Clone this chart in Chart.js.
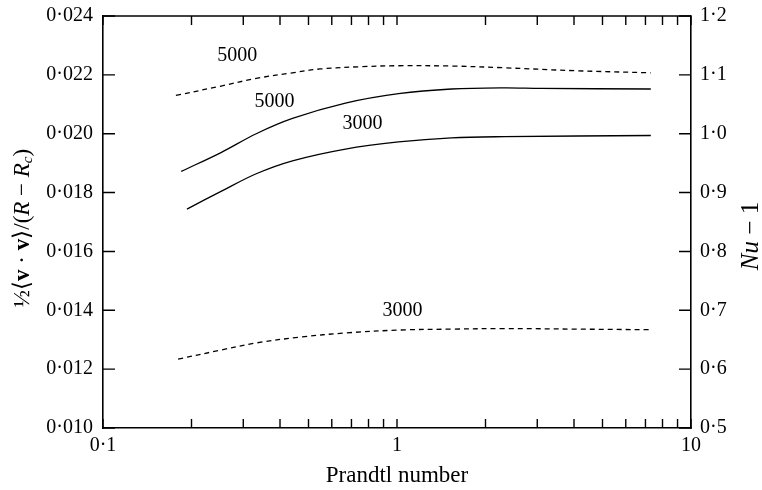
<!DOCTYPE html>
<html>
<head>
<meta charset="utf-8">
<script src="https://cdn.jsdelivr.net/npm/chart.js@4.4.1/dist/chart.umd.min.js"></script>
<style>
  html, body { margin: 0; padding: 0; background: #fff; }
  #c { display: block; }
</style>
</head>
<body>
<canvas id="c" width="762" height="490"></canvas>
<script>
// ---- data ----
// Kinetic energy (left axis), dashed curves
const keX5000 = [0.177, 0.252, 0.332, 0.441, 0.548, 0.763, 1.012, 1.533, 2.32, 4.06, 7.3];
const keY5000 = [0.02130, 0.02162, 0.02188, 0.02207, 0.02220, 0.02228, 0.02231, 0.02230, 0.02224, 0.02214, 0.02207];
const keX3000 = [0.180, 0.252, 0.332, 0.469, 0.668, 1.028, 1.533, 2.32, 4.06, 7.3];
const keY3000 = [0.01234, 0.01265, 0.01289, 0.01309, 0.01323, 0.01333, 0.01336, 0.01338, 0.01336, 0.01334];
// Nu - 1 (right axis), solid curves
const nuX5000 = [0.1845, 0.252, 0.332, 0.441, 0.668, 1.012, 1.533, 2.32, 3.08, 7.3];
const nuY5000 = [0.936, 0.968, 1.000, 1.026, 1.052, 1.068, 1.076, 1.078, 1.077, 1.076];
const nuX3000 = [0.193, 0.252, 0.332, 0.441, 0.668, 1.012, 1.533, 2.32, 7.3];
const nuY3000 = [0.872, 0.902, 0.932, 0.954, 0.974, 0.986, 0.993, 0.995, 0.997];

// curve annotations (left-axis units)
const curveLabels = ['5000', '5000', '3000', '3000'];
const curveLabelX = [0.286, 0.383, 0.763, 1.044];
const curveLabelY = [0.02265, 0.02108, 0.02033, 0.01400];

// ticks
const xTicks = [0.1, 0.2, 0.3, 0.4, 0.5, 0.6, 0.7, 0.8, 0.9, 1, 2, 3, 4, 5, 6, 7, 8, 9, 10];
const xLabelValues = [0.1, 1, 10];
const xLabelTexts = ['0·1', '1', '10'];
const leftTicks = [0.010, 0.012, 0.014, 0.016, 0.018, 0.020, 0.022, 0.024];
const rightTicks = [0.5, 0.6, 0.7, 0.8, 0.9, 1.0, 1.1, 1.2];

const SERIF = '"Liberation Serif", "Times New Roman", serif';
const zip = (xs, ys) => xs.map((x, i) => ({ x, y: ys[i] }));

const framePlugin = {
  id: 'frame',
  afterDraw(chart) {
    const { ctx, chartArea: ca, scales } = chart;
    ctx.save();
    ctx.strokeStyle = '#000';
    ctx.lineWidth = 1.6;
    ctx.beginPath();
    ctx.moveTo(ca.left, ca.top);
    ctx.lineTo(ca.right, ca.top);
    ctx.stroke();
    ctx.lineWidth = 1.4;
    ctx.beginPath();
    xTicks.forEach(v => {
      const px = scales.x.getPixelForValue(v);
      ctx.moveTo(px, ca.bottom); ctx.lineTo(px, ca.bottom - 9);
      ctx.moveTo(px, ca.top); ctx.lineTo(px, ca.top + 9);
    });
    leftTicks.forEach(v => {
      const py = scales.y.getPixelForValue(v);
      ctx.moveTo(ca.left, py); ctx.lineTo(ca.left + 12, py);
    });
    rightTicks.forEach(v => {
      const py = scales.y2.getPixelForValue(v);
      ctx.moveTo(ca.right, py); ctx.lineTo(ca.right - 12, py);
    });
    ctx.stroke();

    ctx.fillStyle = '#000';
    ctx.font = '20px ' + SERIF;
    ctx.textAlign = 'center';
    ctx.textBaseline = 'middle';
    curveLabels.forEach((t, i) => {
      ctx.fillText(t, scales.x.getPixelForValue(curveLabelX[i]), scales.y.getPixelForValue(curveLabelY[i]));
    });

    const drawRich = (segs, cx, cy) => {
      let w = 0;
      segs.forEach(s => { ctx.font = s.f; s.w = ctx.measureText(s.t).width; w += s.w; });
      ctx.save();
      ctx.translate(cx, cy);
      ctx.rotate(-Math.PI / 2);
      ctx.textAlign = 'left';
      ctx.textBaseline = 'middle';
      let x = -w / 2;
      segs.forEach(s => {
        ctx.font = s.f;
        ctx.fillText(s.t, x, s.dy || 0);
        x += s.w;
      });
      ctx.restore();
    };
    const n = '23px ' + SERIF, b = 'bold 23px ' + SERIF, it = 'italic 23px ' + SERIF, sub = 'italic 15px ' + SERIF;
    drawRich([
      { t: '½', f: n }, { t: '⟨', f: n }, { t: 'v', f: b }, { t: ' · ', f: n }, { t: 'v', f: b },
      { t: '⟩/(', f: n }, { t: 'R', f: it }, { t: ' − ', f: n }, { t: 'R', f: it },
      { t: 'c', f: sub, dy: 5 }, { t: ')', f: n }
    ], 23, 228);
    const n2 = '25px ' + SERIF, it2 = 'italic 25px ' + SERIF;
    drawRich([{ t: 'Nu', f: it2 }, { t: ' − 1', f: n2 }], 751, 236);
    ctx.restore();
  }
};

new Chart(document.getElementById('c'), {
  type: 'line',
  data: {
    datasets: [
      { label: 'KE 5000', data: zip(keX5000, keY5000), yAxisID: 'y', borderDash: [5, 4] },
      { label: 'KE 3000', data: zip(keX3000, keY3000), yAxisID: 'y', borderDash: [5, 4] },
      { label: 'Nu 5000', data: zip(nuX5000, nuY5000), yAxisID: 'y2' },
      { label: 'Nu 3000', data: zip(nuX3000, nuY3000), yAxisID: 'y2' }
    ].map(d => Object.assign({
      borderColor: '#000', borderWidth: 1.3, pointRadius: 0, fill: false,
      tension: 0.35
    }, d))
  },
  options: {
    responsive: false,
    devicePixelRatio: 1,
    animation: false,
    layout: { padding: { top: 16, left: 0, right: 0, bottom: 0 } },
    plugins: { legend: { display: false }, tooltip: { enabled: false } },
    scales: {
      x: {
        type: 'logarithmic', min: 0.1, max: 10, position: 'bottom',
        afterBuildTicks: s => { s.ticks = xTicks.map(v => ({ value: v })); },
        ticks: {
          autoSkip: false, maxRotation: 0, padding: 6, color: '#000',
          font: { family: SERIF, size: 20 },
          callback: v => {
            const i = xLabelValues.findIndex(t => Math.abs(t - v) < 1e-9);
            return i >= 0 ? xLabelTexts[i] : '';
          }
        },
        grid: { display: false, drawTicks: false },
        border: { display: true, color: '#000', width: 1.6 },
        title: { display: true, text: 'Prandtl number', color: '#000', font: { family: SERIF, size: 23 }, padding: { top: 0, bottom: 0 } },
        afterFit: s => { s.height = 62; s.paddingLeft = 0; s.paddingRight = 0; }
      },
      y: {
        type: 'linear', position: 'left', min: 0.010, max: 0.024,
        afterBuildTicks: s => { s.ticks = leftTicks.map(v => ({ value: v })); },
        ticks: { padding: 10, color: '#000', font: { family: SERIF, size: 20 }, callback: v => v.toFixed(3).replace('.', '·') },
        grid: { display: false, drawTicks: false },
        border: { display: true, color: '#000', width: 1.6 },
        afterFit: s => { s.width = 103; s.paddingTop = 0; s.paddingBottom = 0; }
      },
      y2: {
        type: 'linear', position: 'right', min: 0.5, max: 1.2,
        afterBuildTicks: s => { s.ticks = rightTicks.map(v => ({ value: v })); },
        ticks: { padding: 9, color: '#000', font: { family: SERIF, size: 20 }, callback: v => v.toFixed(1).replace('.', '·') },
        grid: { display: false, drawTicks: false },
        border: { display: true, color: '#000', width: 1.6 },
        afterFit: s => { s.width = 71; s.paddingTop = 0; s.paddingBottom = 0; }
      }
    }
  },
  plugins: [framePlugin]
});
</script>
</body>
</html>
